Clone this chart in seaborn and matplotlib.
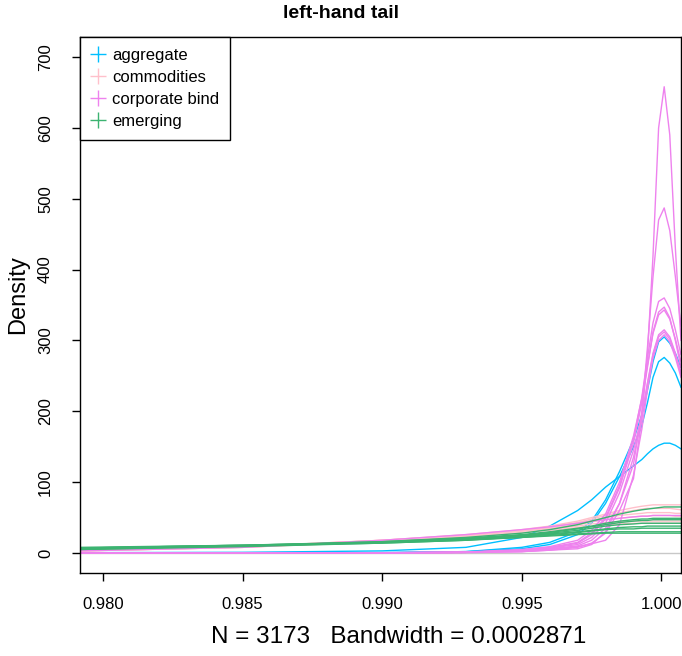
import numpy as np
import pandas as pd
import matplotlib
matplotlib.use("Agg")
import matplotlib.pyplot as plt
from matplotlib.lines import Line2D
import seaborn as sns

plt.rcParams['font.family'] = ['Liberation Sans', 'DejaVu Sans']

# ---- data ----
x_grid = [0.9792, 0.985, 0.990, 0.993, 0.995, 0.996, 0.997, 0.9975, 0.998, 0.9985,
          0.999, 0.9993, 0.9995, 0.9997, 0.9999, 1.0001, 1.0003, 1.0005, 1.0007]

categories = ["aggregate", "commodities", "corporate bind", "emerging"]
colors = ["#00BFFF", "#FFC0CB", "#EE82EE", "#3CB371"]

aggregate = [
    [0.5, 1, 3, 8, 22, 38, 60, 75, 93, 108, 123, 132, 140, 147, 152, 155, 155, 152, 147],
    [0, 0, 0.5, 2, 8, 15, 30, 45, 75, 115, 160, 195, 230, 270, 298, 305, 296, 282, 262],
    [0, 0, 0.5, 2, 6, 12, 26, 42, 70, 108, 150, 180, 212, 248, 270, 276, 268, 254, 234],
]
commodities = [
    [4, 9, 18, 26, 33, 38, 45, 50, 55, 60, 64, 66, 67, 68, 68, 68, 68, 68, 68],
    [4, 9, 18, 25, 32, 37, 43, 48, 53, 57, 60, 62, 63, 63, 63, 63, 63, 62, 61],
    [3, 8, 17, 25, 32, 36, 42, 46, 50, 53, 55, 56, 57, 57, 57, 57, 57, 56, 56],
    [3, 8, 17, 24, 31, 35, 40, 44, 47, 49, 51, 52, 52, 53, 53, 53, 53, 52, 52],
    [4, 9, 18, 25, 31, 34, 38, 41, 43, 44, 45, 45, 45, 45, 45, 45, 45, 45, 45],
    [3, 8, 16, 23, 29, 32, 36, 38, 40, 41, 42, 42, 42, 42, 42, 42, 42, 42, 42],
]
corporate_bind = [
    [0, 0, 0, 0.5, 2, 4, 8, 14, 28, 60, 105, 190, 280, 420, 600, 658, 590, 430, 300],
    [0, 0, 0, 1, 3, 6, 10, 18, 35, 70, 125, 200, 290, 390, 470, 487, 455, 390, 320],
    [0, 0, 0.3, 1, 4, 8, 15, 28, 50, 95, 160, 220, 275, 325, 355, 360, 345, 315, 280],
    [0, 0, 0.3, 1, 4, 7, 14, 26, 48, 92, 155, 212, 262, 312, 340, 347, 332, 300, 262],
    [0, 0, 0.4, 1.5, 5, 9, 18, 32, 55, 100, 165, 218, 265, 310, 336, 343, 330, 302, 270],
    [0, 0, 0.3, 1, 4, 7, 12, 22, 42, 85, 145, 195, 240, 282, 308, 315, 305, 282, 255],
    [0, 0, 0.3, 1, 2, 4, 6, 12, 30, 70, 135, 190, 238, 280, 305, 312, 302, 280, 252],
    [0, 0, 0.2, 1, 2, 5, 9, 13, 18, 40, 110, 175, 230, 275, 300, 308, 298, 276, 248],
    [3, 8, 18, 26, 33, 37, 42, 45, 47, 49, 51, 52, 52, 53, 53, 53, 53, 53, 53],
]
emerging = [
    [6, 10, 16, 22, 28, 33, 40, 45, 50, 55, 59, 61, 62, 63, 64, 65, 65, 65, 65],
    [7, 11, 16, 21, 26, 30, 35, 38, 42, 45, 47, 48, 48, 49, 49, 49, 49, 49, 49],
    [6, 10, 15, 20, 25, 29, 34, 37, 40, 43, 45, 46, 46, 47, 47, 47, 47, 47, 47],
    [5, 10, 15, 20, 25, 28, 32, 35, 38, 40, 41, 42, 42, 42, 42, 42, 42, 42, 42],
    [7, 11, 15, 19, 24, 27, 30, 32, 34, 36, 37, 37, 38, 38, 38, 38, 38, 38, 38],
    [5, 9, 14, 18, 23, 26, 29, 31, 33, 34, 34, 35, 35, 35, 35, 35, 35, 35, 35],
    [6, 10, 14, 18, 22, 25, 27, 28, 29, 30, 30, 30, 30, 30, 30, 30, 30, 30, 30],
    [8, 11, 15, 19, 22, 24, 26, 27, 28, 28, 28, 28, 28, 28, 28, 28, 28, 28, 28],
]

x_ticks = [0.980, 0.985, 0.990, 0.995, 1.000]
y_ticks = [0, 100, 200, 300, 400, 500, 600, 700]
title = "left-hand tail"
x_label = "N = 3173   Bandwidth = 0.0002871"
y_label = "Density"

# ---- long table ----
rows = []
for cat, curves in zip(categories, [aggregate, commodities, corporate_bind, emerging]):
    for i, ys in enumerate(curves):
        for xv, yv in zip(x_grid, ys):
            rows.append({"x": xv, "density": yv, "category": cat, "curve": f"{cat}-{i}"})
df = pd.DataFrame(rows)

W, H = 682, 656
fig = plt.figure(figsize=(W / 100, H / 100), dpi=100)
ax = fig.add_axes([80 / W, 83 / H, 601 / W, 536 / H])

ax.axhline(0, color="#C8C8C8", lw=1.0, zorder=0.5)

sns.lineplot(data=df, x="x", y="density", hue="category", hue_order=categories,
             units="curve", estimator=None, palette=dict(zip(categories, colors)),
             linewidth=1.0, legend=False, sort=False, ax=ax)

ax.set_xlim(0.979176, 1.000702)
ax.set_ylim(-28.2, 728.2)
ax.set_xticks(x_ticks)
ax.set_xticklabels([f"{v:.3f}" for v in x_ticks], fontsize=12)
ax.set_yticks(y_ticks)
ax.set_yticklabels([str(v) for v in y_ticks], fontsize=12, rotation=90, va="center")
ax.tick_params(axis="both", direction="out", length=5.5, width=1, color="black")
ax.tick_params(axis="y", pad=14)
ax.tick_params(axis="x", pad=12)
ax.set_xlabel("")
ax.set_ylabel("")
for s in ax.spines.values():
    s.set_color("black")
    s.set_linewidth(1)

fig.text(341 / W, 1 - 14 / H, title, ha="center", va="center",
         fontsize=14, fontweight="bold")
fig.text(399 / W, 1 - 637 / H, x_label, ha="center", va="center", fontsize=17.5)
fig.text(18 / W, 1 - 295 / H, y_label, ha="center", va="center", fontsize=17, rotation=90)

handles = [Line2D([], [], color=c, marker="+", linestyle="None", markersize=11,
                  markeredgewidth=1.0) for c in colors]
leg = ax.legend(handles, categories, loc="upper left", bbox_to_anchor=(0, 1),
                borderaxespad=0, frameon=True, fancybox=False, framealpha=1,
                edgecolor="black", fontsize=12, handlelength=0.9, handletextpad=0.4,
                labelspacing=0.42, borderpad=0.65)
leg.get_frame().set_linewidth(1)

fig.savefig("out.png", dpi=100)
